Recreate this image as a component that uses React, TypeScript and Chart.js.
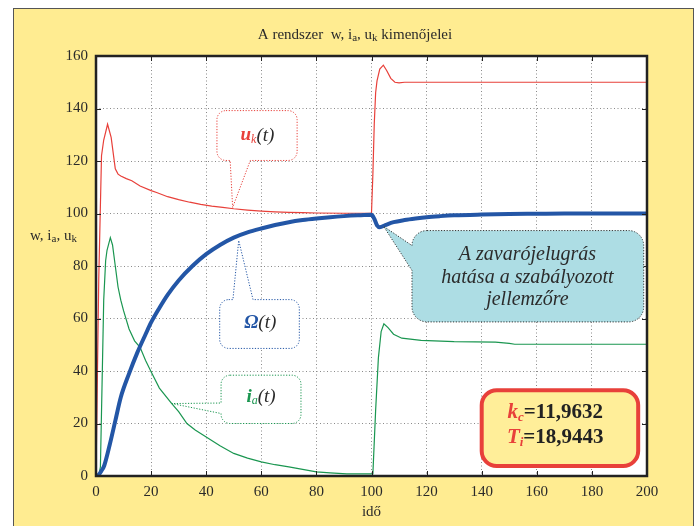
import { useEffect, useRef } from "react";
import { Chart, registerables } from "chart.js";
Chart.register(...registerables);

// ---- data (time in "idő" units) ----
const tOmega = [0, 1, 2, 3, 5, 7, 9, 12, 15, 18, 20, 23, 26, 30, 35, 40, 45, 50, 55, 60, 65, 70, 75, 80, 85, 90, 95, 100, 101, 102, 103, 105, 108, 112, 116, 120, 125, 130, 140, 150, 160, 170, 180, 200];
const omega = [0, 0.5, 2, 4, 12, 21, 30, 39, 47, 54, 58.5, 64, 69, 74.5, 80, 84.5, 88, 90.8, 92.8, 94.3, 95.6, 96.7, 97.5, 98.1, 98.6, 99, 99.3, 99.5, 98, 95.5, 94.8, 95.6, 96.7, 97.5, 98.1, 98.6, 99, 99.3, 99.6, 99.8, 99.9, 100, 100, 100];

const tUk = [0, 1, 2, 2.8, 4.2, 5.5, 7, 8, 9, 11, 13, 16, 20, 22, 26, 30, 34, 38, 42, 46, 50, 55, 60, 65, 70, 75, 80, 90, 100, 100.5, 101, 101.5, 102, 103, 104.3, 105.5, 107, 108.5, 110, 112, 200];
const uk = [0, 75, 122, 128, 134, 129, 117, 115, 114.3, 113.3, 112.5, 110.5, 108.7, 108, 106.4, 105.3, 104.3, 103.5, 102.8, 102.3, 101.8, 101.3, 100.9, 100.6, 100.4, 100.3, 100.2, 100.1, 100.1, 115, 134, 146, 150.5, 155, 156.5, 154.5, 151.5, 150, 149.8, 150, 150];

const tIa = [0, 1, 1.6, 2.2, 2.8, 3.5, 4, 5.2, 6, 7, 8, 9, 10, 12, 14, 16, 18, 20, 23, 27.5, 30, 33, 36, 40, 45, 50, 55, 60, 65, 70, 75, 80, 85, 91, 100, 100.5, 101.5, 102.5, 103.5, 104.5, 106, 108, 111, 118, 130, 145, 150, 152, 200];
const ia = [0, 0, 3.5, 35, 67, 82, 86, 90.8, 88, 80, 72, 67, 63, 56, 51.5, 49, 44, 39.7, 33.5, 27.6, 24.5, 20, 17.5, 14.9, 11.5, 8.6, 6.8, 5.4, 4.3, 3.5, 2.5, 1.6, 1.2, 0.8, 0.8, 0.8, 25, 45, 55, 58, 56.5, 54, 52.5, 51.7, 51.2, 51, 50.5, 50.2, 50.2];

const xMin = 0, xMax = 200, xStep = 20;
const yMin = 0, yMax = 160, yStep = 20;

const SERIF = '"Liberation Serif", "DejaVu Serif", serif';
const RED = "#E8403A";
const GREEN = "#1A9650";
const BLUE = "#2356A6";
const DARK = "#2a2a2a";

type Seg = { text: string; font: string; color: string; dy?: number };

function drawRich(ctx: CanvasRenderingContext2D, segs: Seg[], cx: number, cy: number) {
  let total = 0;
  for (const s of segs) { ctx.font = s.font; total += ctx.measureText(s.text).width; }
  let x = cx - total / 2;
  ctx.textBaseline = "middle";
  ctx.textAlign = "left";
  for (const s of segs) {
    ctx.font = s.font;
    ctx.fillStyle = s.color;
    ctx.fillText(s.text, x, cy + (s.dy || 0));
    x += ctx.measureText(s.text).width;
  }
}

function drawRichLeft(ctx: CanvasRenderingContext2D, segs: Seg[], x0: number, cy: number) {
  let x = x0;
  ctx.textBaseline = "middle";
  ctx.textAlign = "left";
  for (const s of segs) {
    ctx.font = s.font;
    ctx.fillStyle = s.color;
    ctx.fillText(s.text, x, cy + (s.dy || 0));
    x += ctx.measureText(s.text).width;
  }
}

function bubblePath(
  ctx: CanvasRenderingContext2D,
  x0: number, y0: number, x1: number, y1: number, r: number,
  side: "top" | "bottom" | "left", b1: number, b2: number, tx: number, ty: number
) {
  ctx.beginPath();
  ctx.moveTo(x0 + r, y0);
  if (side === "top") { ctx.lineTo(b1, y0); ctx.lineTo(tx, ty); ctx.lineTo(b2, y0); }
  ctx.lineTo(x1 - r, y0);
  ctx.arcTo(x1, y0, x1, y0 + r, r);
  ctx.lineTo(x1, y1 - r);
  ctx.arcTo(x1, y1, x1 - r, y1, r);
  if (side === "bottom") { ctx.lineTo(b2, y1); ctx.lineTo(tx, ty); ctx.lineTo(b1, y1); }
  ctx.lineTo(x0 + r, y1);
  ctx.arcTo(x0, y1, x0, y1 - r, r);
  if (side === "left") { ctx.lineTo(x0, b2); ctx.lineTo(tx, ty); ctx.lineTo(x0, b1); }
  ctx.lineTo(x0, y0 + r);
  ctx.arcTo(x0, y0, x0 + r, y0, r);
  ctx.closePath();
}

const decorPlugin = {
  id: "decor",
  beforeDraw(chart: any) {
    const ctx: CanvasRenderingContext2D = chart.ctx;
    const { left, top, right, bottom } = chart.chartArea;
    ctx.save();
    ctx.fillStyle = "#ffffff";
    ctx.fillRect(0, 0, chart.width, chart.height);
    ctx.fillStyle = "#FFEC91";
    ctx.fillRect(13, 8, 680, 530);
    ctx.strokeStyle = "#555";
    ctx.lineWidth = 1;
    ctx.strokeRect(13.5, 8.5, 680, 530);
    ctx.fillStyle = "#ffffff";
    ctx.fillRect(left, top, right - left, bottom - top);
    ctx.restore();
  },
  afterDraw(chart: any) {
    const ctx: CanvasRenderingContext2D = chart.ctx;
    const xs = chart.scales.x, ys = chart.scales.y;
    const px = (v: number) => xs.getPixelForValue(v);
    const py = (v: number) => ys.getPixelForValue(v);
    const { left, top, right, bottom } = chart.chartArea;
    ctx.save();

    // plot frame and inner tick marks
    ctx.strokeStyle = "#222";
    ctx.lineWidth = 1;
    ctx.beginPath();
    for (let v = xMin + xStep; v < xMax; v += xStep) {
      const x = Math.round(px(v)) + 0.5;
      ctx.moveTo(x, bottom); ctx.lineTo(x, bottom - 5);
      ctx.moveTo(x, top); ctx.lineTo(x, top + 5);
    }
    for (let v = yMin + yStep; v < yMax; v += yStep) {
      const y = Math.round(py(v)) + 0.5;
      ctx.moveTo(left, y); ctx.lineTo(left + 5, y);
      ctx.moveTo(right, y); ctx.lineTo(right - 5, y);
    }
    ctx.stroke();
    ctx.lineWidth = 2.5;
    ctx.strokeRect(left, top, right - left, bottom - top);

    // title
    const tf = `15px ${SERIF}`, sf = `11px ${SERIF}`;
    drawRich(ctx, [
      { text: "A rendszer  w, i", font: tf, color: DARK },
      { text: "a", font: sf, color: DARK, dy: 3 },
      { text: ", u", font: tf, color: DARK },
      { text: "k", font: sf, color: DARK, dy: 3 },
      { text: " kimenőjelei", font: tf, color: DARK },
    ], 355, 35);

    // y axis title
    drawRichLeft(ctx, [
      { text: "w, i", font: tf, color: DARK },
      { text: "a", font: sf, color: DARK, dy: 3 },
      { text: ", u", font: tf, color: DARK },
      { text: "k", font: sf, color: DARK, dy: 3 },
    ], 30, 236);

    // x axis title
    ctx.font = `15px ${SERIF}`;
    ctx.fillStyle = DARK;
    ctx.textAlign = "center";
    ctx.textBaseline = "middle";
    ctx.fillText("idő", (left + right) / 2, 512);

    const big = (w: string) => `${w} 19px ${SERIF}`;
    const subF = (w: string) => `${w} 12px ${SERIF}`;
    const dots = [1.2, 1.6];

    // u_k(t) bubble
    ctx.setLineDash(dots);
    ctx.lineWidth = 1;
    ctx.strokeStyle = RED;
    ctx.fillStyle = "#ffffff";
    bubblePath(ctx, px(43.9), py(139.2), px(73), py(120.2), 9, "bottom", px(48.7), px(56), px(49.6), py(102.3));
    ctx.fill(); ctx.stroke();
    ctx.setLineDash([]);
    drawRich(ctx, [
      { text: "u", font: big("italic bold"), color: RED },
      { text: "k", font: subF("italic"), color: RED, dy: 4 },
      { text: "(t)", font: big("italic"), color: DARK },
    ], px(58.6), py(129.7));

    // Ω(t) bubble
    ctx.setLineDash(dots);
    ctx.strokeStyle = BLUE;
    ctx.fillStyle = "#ffffff";
    bubblePath(ctx, px(44.9), py(67.2), px(73.8), py(48.6), 9, "top", px(49.7), px(57), px(51.8), py(89.7));
    ctx.fill(); ctx.stroke();
    ctx.setLineDash([]);
    drawRich(ctx, [
      { text: "Ω", font: big("italic bold"), color: BLUE },
      { text: "(t)", font: big("italic"), color: DARK },
    ], px(59.6), py(58.2));

    // i_a(t) bubble
    ctx.setLineDash(dots);
    ctx.strokeStyle = GREEN;
    ctx.fillStyle = "#ffffff";
    bubblePath(ctx, px(45.4), py(38.4), px(74.4), py(20), 9, "left", py(27.8), py(23.8), px(27.6), py(27.6));
    ctx.fill(); ctx.stroke();
    ctx.setLineDash([]);
    drawRich(ctx, [
      { text: "i", font: big("italic bold"), color: GREEN },
      { text: "a", font: subF("italic"), color: GREEN, dy: 4 },
      { text: "(t)", font: big("italic"), color: DARK },
    ], px(59.9), py(30));

    // cyan bubble
    ctx.setLineDash(dots);
    ctx.strokeStyle = "#333";
    ctx.fillStyle = "#ADDDE4";
    bubblePath(ctx, px(114.7), py(93.5), px(198.8), py(58.7), 15, "left", py(87.8), py(78.3), px(104.4), py(95.1));
    ctx.fill(); ctx.stroke();
    ctx.setLineDash([]);
    ctx.font = `italic 20px ${SERIF}`;
    ctx.fillStyle = "#2b2b2b";
    ctx.textAlign = "center";
    ctx.textBaseline = "middle";
    const cx = px(156.6);
    ctx.fillText("A zavarójelugrás", cx, 255);
    ctx.fillText("hatása a szabályozott", cx, 278);
    ctx.fillText("jellemzőre", cx, 300);

    // kc / Ti box
    ctx.lineWidth = 4;
    ctx.strokeStyle = "#E8403A";
    ctx.fillStyle = "#FFEE99";
    const bx0 = px(140), bx1 = px(196.8), by0 = py(32.7), by1 = py(3.8), br = 15;
    ctx.beginPath();
    ctx.moveTo(bx0 + br, by0);
    ctx.arcTo(bx1, by0, bx1, by1, br);
    ctx.arcTo(bx1, by1, bx0, by1, br);
    ctx.arcTo(bx0, by1, bx0, by0, br);
    ctx.arcTo(bx0, by0, bx1, by0, br);
    ctx.closePath();
    ctx.fill(); ctx.stroke();
    const kf = `bold 21px ${SERIF}`, kif = `italic bold 21px ${SERIF}`, ks = `italic bold 13px ${SERIF}`;
    const kcx = px(166.7);
    drawRich(ctx, [
      { text: "k", font: kif, color: RED },
      { text: "c", font: ks, color: RED, dy: 5 },
      { text: "=11,9632", font: kf, color: "#222" },
    ], kcx, 413);
    drawRich(ctx, [
      { text: "T", font: kif, color: RED },
      { text: "i", font: ks, color: RED, dy: 5 },
      { text: "=18,9443", font: kf, color: "#222" },
    ], kcx, 438);

    ctx.restore();
  },
};

const zip = (t: number[], v: number[]) => t.map((x, i) => ({ x, y: v[i] }));

export default function App() {
  const ref = useRef<HTMLCanvasElement>(null);
  useEffect(() => {
    if (!ref.current) return;
    const tickFont = { family: SERIF, size: 15 };
    const chart = new Chart(ref.current, {
      type: "line",
      data: {
        datasets: [
          { label: "Ω(t)", data: zip(tOmega, omega), borderColor: BLUE, borderWidth: 4, pointRadius: 0, cubicInterpolationMode: "monotone", fill: false },
          { label: "uk(t)", data: zip(tUk, uk), borderColor: RED, borderWidth: 1.2, pointRadius: 0, tension: 0, fill: false },
          { label: "ia(t)", data: zip(tIa, ia), borderColor: GREEN, borderWidth: 1.2, pointRadius: 0, tension: 0, fill: false },
        ],
      },
      options: {
        responsive: false,
        animation: false,
        layout: { padding: { left: 0, right: 51, top: 56, bottom: 0 } },
        plugins: { legend: { display: false }, tooltip: { enabled: false }, title: { display: false } },
        scales: {
          x: {
            type: "linear", min: xMin, max: xMax,
            ticks: { stepSize: xStep, font: tickFont, color: DARK, padding: 7, maxRotation: 0 },
            grid: { color: "#8a8a8a", lineWidth: 1, drawTicks: false },
            border: { display: false, dash: [1, 2.5] },
            afterFit: (s: any) => { s.height = 50; },
          },
          y: {
            min: yMin, max: yMax,
            ticks: { stepSize: yStep, font: tickFont, color: DARK, padding: 8 },
            grid: { color: "#8a8a8a", lineWidth: 1, drawTicks: false },
            border: { display: false, dash: [1, 2.5] },
            afterFit: (s: any) => { s.width = 96; },
          },
        },
      } as any,
      plugins: [decorPlugin],
    });
    return () => chart.destroy();
  }, []);
  return (
    <div style={{ position: "fixed", left: 0, top: 0, width: 698, height: 526 }}>
      <canvas ref={ref} width={698} height={526} style={{ width: 698, height: 526, display: "block" }} />
    </div>
  );
}
